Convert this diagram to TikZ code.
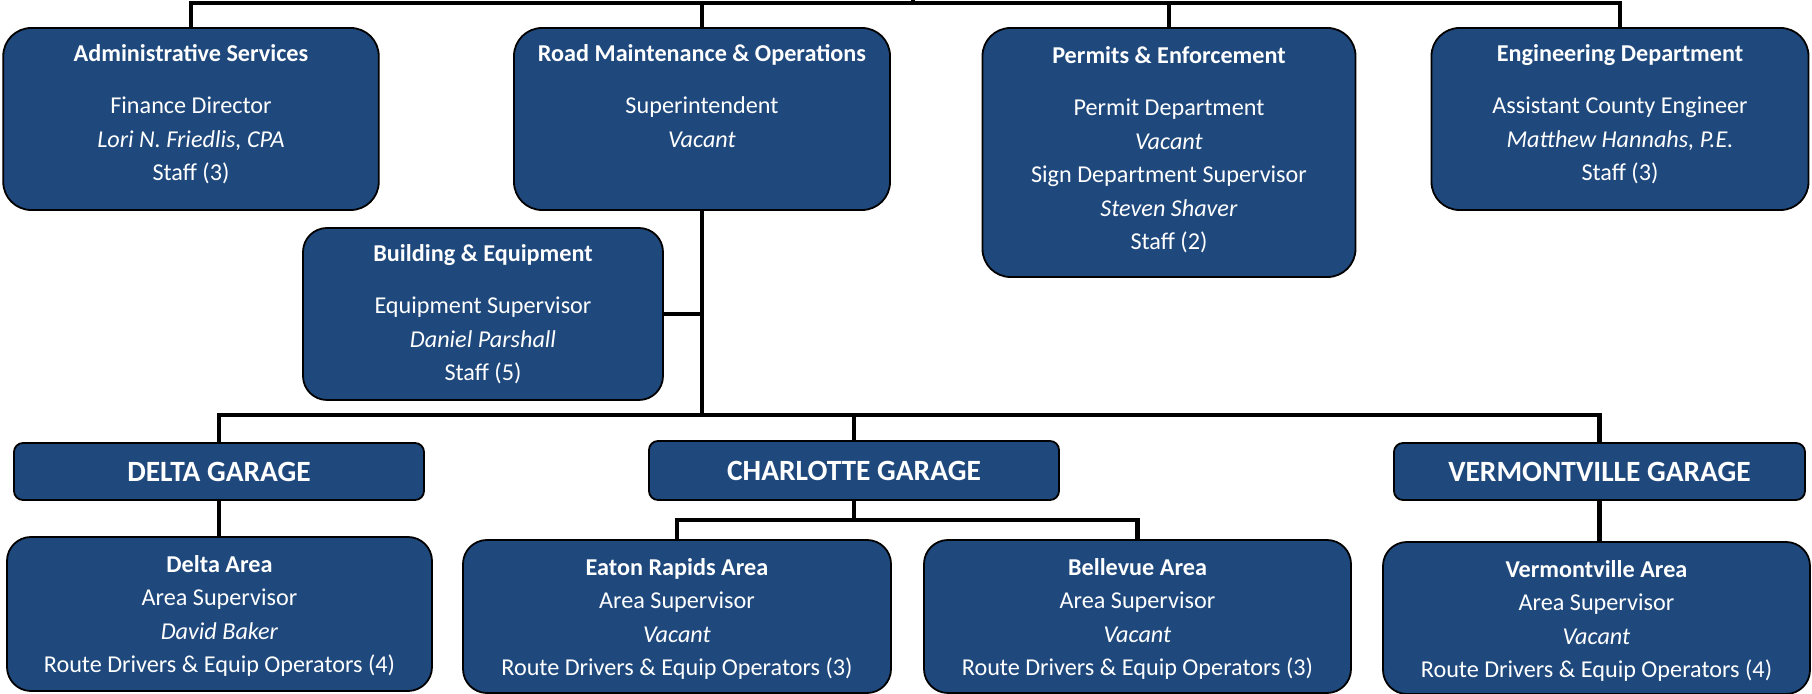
\documentclass[tikz,border=0pt]{standalone}
\usepackage{fontspec}
\setmainfont{Carlito}
\usetikzlibrary{positioning}
\definecolor{boxblue}{RGB}{31,73,125}

\begin{document}
\begin{tikzpicture}[x=0.5pt, y=-0.5pt,
    unit/.style={draw=black, line width=0.9pt, fill=boxblue, rounded corners=14pt, inner sep=0pt},
    area/.style={unit, rounded corners=12pt},
    garage/.style={unit, rounded corners=4.5pt, text=white, font=\fontsize{14.7}{17}\selectfont\bfseries},
    info/.style={text=white, inner sep=0pt, align=center, font=\fontsize{12.1}{16.75}\selectfont},
    link/.style={line width=2.4pt, black}]
    \useasboundingbox (0,0) rectangle (1812,694);

    % Top row
    \node[unit, minimum width=187.75pt, minimum height=91pt] (admin) at (191,119) {};
    \node[unit, minimum width=188pt, minimum height=91pt] (road) at (702,119) {};
    \node[unit, minimum width=186.5pt, minimum height=124.5pt] (permits) at (1169,152.5) {};
    \node[unit, minimum width=188.5pt, minimum height=91pt] (eng) at (1620,119) {};
    \node[info, below=8.6pt of admin.north] (adminTxt) {\textbf{Administrative Services}\\[9.25pt]
        Finance Director\\ \textit{Lori N. Friedlis, CPA}\\ Staff (3)};
    \node[info, below=8.6pt of road.north] (roadTxt) {\textbf{Road Maintenance \& Operations}\\[9.25pt]
        Superintendent\\ \textit{Vacant}};
    \node[info, below=9.6pt of permits.north] (permitsTxt) {\textbf{Permits \& Enforcement}\\[9.25pt]
        Permit Department\\ \textit{Vacant}\\ Sign Department Supervisor\\ \textit{Steven Shaver}\\ Staff (2)};
    \node[info, below=8.6pt of eng.north] (engTxt) {\textbf{Engineering Department}\\[9.25pt]
        Assistant County Engineer\\ \textit{Matthew Hannahs, P.E.}\\ Staff (3)};

    % Building & Equipment
    \node[area, minimum width=180pt, minimum height=86pt] (bldg) at (483,314) {};
    \node[info, below=8.6pt of bldg.north] (bldgTxt) {\textbf{Building \& Equipment}\\[9.25pt]
        Equipment Supervisor\\ \textit{Daniel Parshall}\\ Staff (5)};

    % Garages
    \node[garage, minimum width=205pt, minimum height=28.5pt] (dgar) at (219,471.5) {DELTA GARAGE};
    \node[garage, minimum width=205pt, minimum height=29.5pt] (cgar) at (854,470.5) {CHARLOTTE GARAGE};
    \node[garage, minimum width=205.5pt, minimum height=28.5pt] (vgar) at (1599.5,471.5) {VERMONTVILLE GARAGE};

    % Areas
    \node[area, minimum width=212.5pt, minimum height=77pt] (darea) at (219.5,614) {};
    \node[area, minimum width=214pt, minimum height=76.5pt] (eaton) at (677,616.5) {};
    \node[area, minimum width=213.5pt, minimum height=76.5pt] (bell) at (1137.5,616.5) {};
    \node[area, minimum width=213.5pt, minimum height=76pt] (varea) at (1596.5,618) {};
    \node[info, below=9.5pt of darea.north] (dareaTxt) {\textbf{Delta Area}\\
        Area Supervisor\\ \textit{David Baker}\\ Route Drivers \& Equip Operators (4)};
    \node[info, below=9.5pt of eaton.north] (eatonTxt) {\textbf{Eaton Rapids Area}\\
        Area Supervisor\\ \textit{Vacant}\\ Route Drivers \& Equip Operators (3)};
    \node[info, below=9.5pt of bell.north] (bellTxt) {\textbf{Bellevue Area}\\
        Area Supervisor\\ \textit{Vacant}\\ Route Drivers \& Equip Operators (3)};
    \node[info, below=9.5pt of varea.north] (vareaTxt) {\textbf{Vermontville Area}\\
        Area Supervisor\\ \textit{Vacant}\\ Route Drivers \& Equip Operators (4)};

    \coordinate (top)    at (913,0);
    \coordinate (bar)    at (913,3);
    \coordinate (split)  at (702,415);
    \coordinate (csplit) at (854,520);
    \draw [link] (admin.north) |- (bar) -| (eng.north);% Draw top bar
    \draw [link] (road.north) -- (road.north |- bar);
    \draw [link] (permits.north) -- (permits.north |- bar);
    \draw [link] (bar) -- (top);
    \draw [link] (road.south) -- (split);% Draw trunk
    \draw [link] (bldg.east) -- (bldg.east -| split);
    \draw [link] (dgar.north) |- (split) -| (vgar.north);% Draw garage bar
    \draw [link] (cgar.north) -- (cgar.north |- split);
    \draw [link] (dgar.south) -- (dgar.south |- darea.north);
    \draw [link] (cgar.south) -- (csplit);
    \draw [link] (eaton.north) |- (csplit) -| (bell.north);
    \draw [link] (vgar.south) -- (vgar.south |- varea.north);
\end{tikzpicture}
\end{document}
